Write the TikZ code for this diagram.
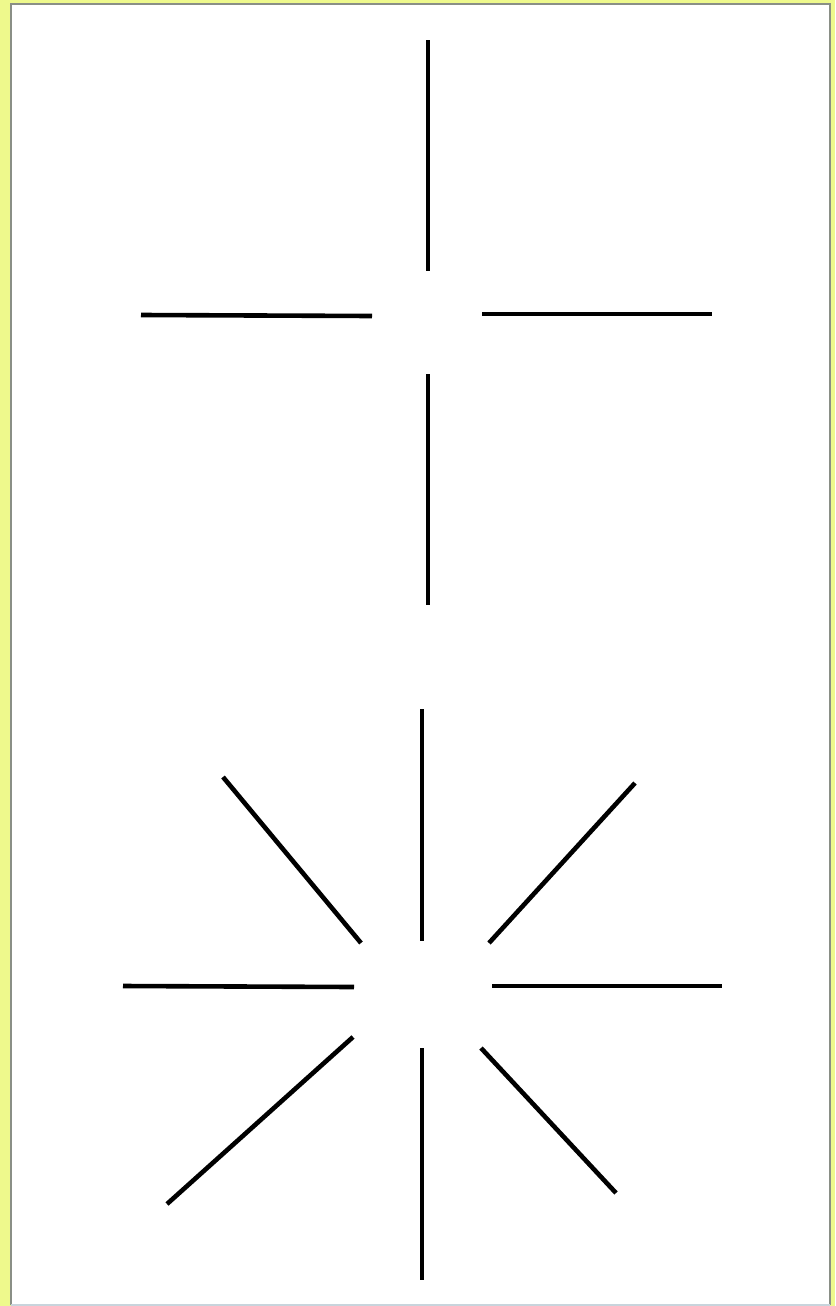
\documentclass[tikz,border=0pt]{standalone}
\usepackage{tikz}

\definecolor{frameyellow}{HTML}{EEF98C}
\definecolor{framegrey}{HTML}{8A8F86}
\definecolor{edgeblue}{HTML}{C8D4DC}

\begin{document}
\begin{tikzpicture}[
  x=0.5pt, y=-0.5pt,
  stroke/.style={line width=2.3pt, black},
  panel/.style={draw=framegrey, line width=0.9pt}
]
\fill[frameyellow] (0,0) rectangle (835,1306);
\fill[white] (11,4) rectangle (830,1305);
\draw[panel] (11,1305) -- (11,4) -- (830,4) -- (830,1305);
\draw[edgeblue, line width=0.9pt] (11,1305) -- (830,1305);
\useasboundingbox (0,0) rectangle (835,1306);

% cross
\draw[stroke] (428,40) -- (428,271);
\draw[stroke] (141,315) -- (372,316);
\draw[stroke] (482,314) -- (712,314);
\draw[stroke] (428,374) -- (428,605);

% star
\draw[stroke] (422,709) -- (422,941);
\draw[stroke] (223,777) -- (361,943);
\draw[stroke] (635,783) -- (489,943);
\draw[stroke] (123,986) -- (354,987);
\draw[stroke] (492,986) -- (722,986);
\draw[stroke] (353,1037) -- (167,1204);
\draw[stroke] (422,1048) -- (422,1280);
\draw[stroke] (481,1048) -- (616,1193);
\end{tikzpicture}
\end{document}
